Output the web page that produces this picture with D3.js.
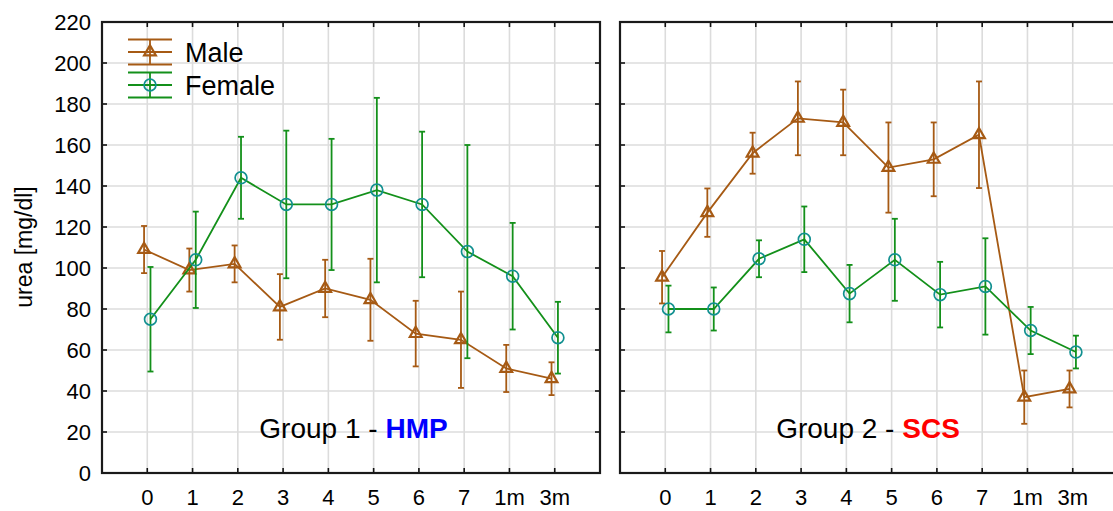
<!DOCTYPE html>
<html><head><meta charset="utf-8">
<script src="https://cdn.jsdelivr.net/npm/d3@7"></script>
<style>body{margin:0;background:#fff}svg{display:block;font-family:"Liberation Sans",Arial,sans-serif}</style>
</head><body>
<svg id="c" width="1113" height="511"></svg>
<script>
const categories = ["0","1","2","3","4","5","6","7","1m","3m"];
const yTicks = [0,20,40,60,80,100,120,140,160,180,200,220];
const g1Male = [109,99,102,81,90,84.5,68,65,51,46];
const g1MaleErr = [11.5,10.5,9,16,14,20,16,23.5,11.5,8];
const g1Female = [75,104,144,131,131,138,131,108,96,66];
const g1FemaleErr = [25.5,23.5,20,36,32,45,35.5,52,26,17.5];
const g2Male = [95.5,127,156,173,171,149,153,165,37,41];
const g2MaleErr = [12.8,11.8,10,18,16,22,18,26,13,9];
const g2Female = [80,80,104.5,114,87.5,104,87,91,69.5,59];
const g2FemaleErr = [11.4,10.5,9,16,14,20,16,23.5,11.5,8];
const seriesNames = ["Male","Female"];
const panelTitles = [["Group 1 - ","HMP","#0000ff"],["Group 2 - ","SCS","#ff0000"]];

const MALE = "#a65a14", FEM_LINE = "#13901a", FEM_MARK = "#119090";
const svg = d3.select("#c");
const y = d3.scaleLinear().domain([0,220]).range([473,22]);
const panels = [
  {x0:102, x1:600, male:g1Male, maleErr:g1MaleErr, fem:g1Female, femErr:g1FemaleErr, title:panelTitles[0], tx:353.5},
  {x0:620, x1:1118, male:g2Male, maleErr:g2MaleErr, fem:g2Female, femErr:g2FemaleErr, title:panelTitles[1], tx:868}
];

panels.forEach((p, pi) => {
  const x = d3.scaleLinear().domain([-1, categories.length]).range([p.x0, p.x1]);
  const g = svg.append("g");
  g.selectAll(".vg").data(categories).join("line")
    .attr("x1",(d,i)=>x(i)).attr("x2",(d,i)=>x(i)).attr("y1",y(220)).attr("y2",y(0))
    .attr("stroke","#dcdcdc").attr("stroke-width",1.6);
  g.selectAll(".hg").data(yTicks).join("line")
    .attr("x1",p.x0).attr("x2",p.x1).attr("y1",d=>y(d)).attr("y2",d=>y(d))
    .attr("stroke","#dcdcdc").attr("stroke-width",1.6);
  const tk = g.append("g").attr("stroke","#111").attr("stroke-width",1.6);
  yTicks.forEach(t => {
    tk.append("line").attr("x1",p.x0).attr("x2",p.x0+5).attr("y1",y(t)).attr("y2",y(t));
    tk.append("line").attr("x1",p.x1).attr("x2",p.x1-5).attr("y1",y(t)).attr("y2",y(t));
  });
  categories.forEach((c,i) => {
    tk.append("line").attr("x1",x(i)).attr("x2",x(i)).attr("y1",y(0)).attr("y2",y(0)-5);
    tk.append("line").attr("x1",x(i)).attr("x2",x(i)).attr("y1",y(220)).attr("y2",y(220)+5);
  });
  g.append("rect").attr("x",p.x0).attr("y",y(220)).attr("width",p.x1-p.x0).attr("height",y(0)-y(220))
    .attr("fill","none").attr("stroke","#1a1a1a").attr("stroke-width",2.2);
  g.selectAll(".xl").data(categories).join("text")
    .attr("x",(d,i)=>x(i)).attr("y",505).attr("text-anchor","middle")
    .attr("font-size",22).attr("fill","#000").text(d=>d);
  if (pi===0) {
    g.selectAll(".yl").data(yTicks).join("text")
      .attr("x",91).attr("y",d=>y(d)+8).attr("text-anchor","end")
      .attr("font-size",22).attr("fill","#000").text(d=>d);
  }
  const t = g.append("text").attr("x",p.tx).attr("y",438).attr("text-anchor","middle").attr("font-size",28);
  t.append("tspan").attr("fill","#000").text(p.title[0]);
  t.append("tspan").attr("fill",p.title[2]).attr("font-weight","bold").text(p.title[1]);

  function drawSeries(vals, errs, off, lineCol, markCol, type) {
    const sg = g.append("g");
    const xs = i => x(i)+off;
    sg.append("path").datum(vals)
      .attr("d", d3.line().x((d,i)=>xs(i)).y(d=>y(d)))
      .attr("fill","none").attr("stroke",lineCol).attr("stroke-width",1.8);
    const eb = sg.append("g").attr("stroke",lineCol).attr("stroke-width",1.8);
    vals.forEach((v,i) => {
      const hi = y(v+errs[i]), lo = y(v-errs[i]);
      eb.append("line").attr("x1",xs(i)).attr("x2",xs(i)).attr("y1",hi).attr("y2",lo);
      eb.append("line").attr("x1",xs(i)-3).attr("x2",xs(i)+3).attr("y1",hi).attr("y2",hi);
      eb.append("line").attr("x1",xs(i)-3).attr("x2",xs(i)+3).attr("y1",lo).attr("y2",lo);
    });
    const sym = d3.symbol().type(type==="tri"?d3.symbolTriangle:d3.symbolCircle).size(type==="tri"?60:110);
    sg.selectAll(".m").data(vals).join("path")
      .attr("transform",(d,i)=>`translate(${xs(i)},${y(d)})`)
      .attr("d", sym()).attr("fill","none").attr("stroke",markCol).attr("stroke-width",type==="tri"?2.2:1.7);
  }
  drawSeries(p.male, p.maleErr, -3.2, MALE, MALE, "tri");
  drawSeries(p.fem, p.femErr, 3.2, FEM_LINE, FEM_MARK, "circ");
});

svg.append("text").attr("transform","translate(32,247) rotate(-90)").attr("text-anchor","middle")
  .attr("font-size",23).attr("fill","#000").text("urea [mg/dl]");

const legend = [
  {name:seriesNames[0], col:MALE, mcol:MALE, type:"tri", cy:52},
  {name:seriesNames[1], col:FEM_LINE, mcol:FEM_MARK, type:"circ", cy:85}
];
legend.forEach(l => {
  const lg = svg.append("g").attr("stroke",l.col).attr("stroke-width",1.8);
  [-12.5,0,12.5].forEach(dy => lg.append("line").attr("x1",128).attr("x2",172).attr("y1",l.cy+dy).attr("y2",l.cy+dy));
  lg.append("line").attr("x1",150).attr("x2",150).attr("y1",l.cy-12.5).attr("y2",l.cy+12.5);
  const sym = d3.symbol().type(l.type==="tri"?d3.symbolTriangle:d3.symbolCircle).size(l.type==="tri"?60:110);
  svg.append("path").attr("transform",`translate(150,${l.cy})`).attr("d",sym())
    .attr("fill","none").attr("stroke",l.mcol).attr("stroke-width",l.type==="tri"?2.2:1.7);
  svg.append("text").attr("x",185).attr("y",l.cy+10).attr("font-size",27).attr("fill","#000").text(l.name);
});
</script>
</body></html>
